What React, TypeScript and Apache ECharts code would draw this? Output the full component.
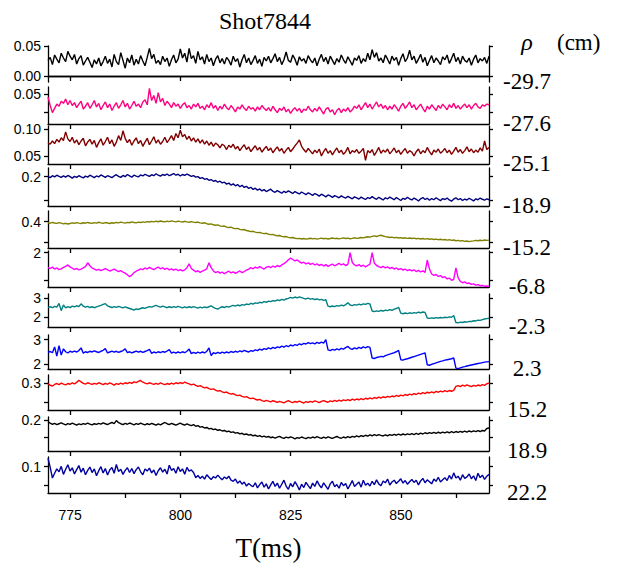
import React, { useEffect, useRef } from "react";
import * as echarts from "echarts";

// ---- sample grid ----
const T_START = 770;
const T_STEP = 0.5;

// ---- axis ticks ----
const xMin = 770;
const xMax = 870;
const xTicks = [775, 800, 825, 850];
const xMinorTicks = [787.5, 812.5, 837.5, 862.5];
const xTickLabels = ["775", "800", "825", "850"];

const titleText = "Shot7844";
const xAxisTitle = "T(ms)";
const rhoHeader = "ρ";
const rhoUnit = "(cm)";
const rhoLabels = ["-29.7", "-27.6", "-25.1", "-18.9", "-15.2", "-6.8", "-2.3", "2.3", "15.2", "18.9", "22.2"];

const yMins = [-0.01, 0.008, 0.035, 0.078, 0.15, 0.744, 1.51, 1.784, 0.159, 0.025, 0.028];
const yMaxs = [0.05, 0.06, 0.106, 0.236, 0.502, 2.06, 3.205, 3.195, 0.344, 0.217, 0.1265];
const yTickValues = [[0, 0.05], [0.025, 0.05], [0.05, 0.1], [0.1, 0.2], [0.2, 0.4], [1, 2], [2, 3], [2, 3], [0.2, 0.3], [0.1, 0.2], [0.05, 0.1]];
const yLabelValues = [[0, 0.05], [0.05], [0.05, 0.1], [0.2], [0.4], [2], [2, 3], [2, 3], [0.3], [0.2], [0.1]];
const yLabelDecimals = [2, 2, 2, 1, 1, 0, 0, 0, 1, 1, 1];

// ---- series values (one sample every 0.5 ms from 770 ms) ----
const s1 = [
  .026,.031,.019,.035,.028,.022,.038,.030,.024,.041,.033,.027,.036,.020,.029,.034,.018,.025,.031,.023,
  .014,.027,.020,.030,.017,.024,.033,.021,.028,.015,.036,.024,.019,.039,.026,.013,.030,.022,.035,.018,
  .028,.020,.034,.025,.017,.031,.046,.029,.036,.021,.026,.019,.033,.024,.030,.016,.027,.035,.022,.028,
  .045,.030,.038,.023,.046,.029,.034,.021,.041,.027,.032,.020,.036,.024,.030,.017,.028,.034,.022,.029,
  .020,.031,.026,.018,.033,.024,.029,.015,.027,.036,.022,.030,.019,.026,.034,.021,.028,.016,.031,.025,
  .033,.022,.029,.037,.024,.031,.019,.027,.040,.026,.023,.035,.028,.018,.032,.025,.029,.021,.034,.027,
  .022,.030,.017,.028,.036,.024,.031,.020,.033,.026,.019,.029,.023,.035,.027,.021,.032,.025,.018,.030,
  .026,.034,.021,.029,.024,.038,.027,.044,.031,.039,.025,.030,.022,.035,.028,.020,.033,.026,.031,.018,
  .029,.037,.024,.030,.043,.027,.033,.021,.028,.036,.023,.031,.017,.026,.034,.022,.030,.025,.019,.032,
  .027,.035,.021,.029,.038,.024,.031,.020,.033,.026,.023,.030,.018,.028,.035,.022,.029,.025,.031,.021,
  .033,
];
const s2 = [
  .046,.034,.024,.030,.036,.033,.040,.037,.043,.035,.041,.034,.038,.031,.036,.040,.029,.033,.038,.030,
  .035,.041,.032,.037,.028,.034,.039,.031,.036,.027,.033,.038,.030,.035,.041,.032,.037,.029,.034,.040,
  .033,.036,.031,.039,.042,.035,.058,.041,.048,.037,.052,.039,.044,.034,.040,.036,.031,.038,.033,.036,
  .030,.035,.038,.031,.034,.029,.036,.032,.037,.030,.033,.028,.035,.031,.038,.030,.034,.027,.033,.029,
  .036,.031,.028,.034,.030,.025,.032,.029,.035,.030,.027,.033,.029,.031,.026,.032,.028,.034,.030,.027,
  .031,.026,.033,.028,.024,.030,.027,.032,.025,.029,.023,.028,.031,.026,.030,.024,.029,.027,.033,.028,
  .025,.030,.026,.032,.027,.022,.029,.031,.025,.028,.021,.027,.030,.024,.029,.026,.031,.025,.028,.033,
  .030,.035,.028,.033,.038,.031,.036,.029,.034,.039,.032,.036,.030,.034,.028,.033,.029,.035,.031,.026,
  .033,.037,.030,.034,.039,.031,.035,.028,.032,.036,.030,.025,.033,.029,.035,.031,.027,.034,.030,.036,
  .032,.028,.035,.031,.037,.030,.034,.029,.033,.036,.031,.035,.029,.034,.037,.032,.030,.035,.033,.036,
  .035,
];
const s3 = [
  .074,.072,.078,.073,.081,.076,.084,.079,.095,.082,.077,.085,.074,.080,.071,.078,.083,.069,.076,.081,
  .072,.079,.066,.075,.082,.070,.077,.085,.073,.080,.068,.076,.088,.079,.097,.083,.075,.081,.070,.078,
  .084,.073,.079,.068,.076,.083,.071,.078,.086,.074,.080,.072,.077,.085,.075,.081,.088,.079,.092,.084,
  .098,.086,.090,.081,.087,.078,.084,.076,.082,.074,.080,.072,.078,.070,.076,.068,.074,.071,.065,.072,
  .069,.062,.070,.066,.072,.063,.068,.060,.066,.071,.062,.067,.058,.064,.069,.061,.066,.057,.063,.068,
  .060,.065,.056,.062,.067,.059,.064,.055,.061,.066,.058,.063,.069,.074,.080,.068,.062,.057,.064,.059,
  .054,.061,.056,.063,.050,.058,.064,.055,.060,.052,.059,.065,.056,.061,.053,.058,.066,.054,.060,.057,
  .062,.055,.059,.064,.042,.060,.056,.062,.051,.058,.066,.055,.061,.057,.063,.054,.059,.065,.056,.061,
  .053,.059,.064,.055,.060,.057,.050,.058,.063,.054,.060,.056,.066,.058,.052,.061,.057,.063,.055,.059,
  .064,.056,.061,.053,.059,.066,.057,.062,.055,.060,.067,.058,.063,.056,.061,.057,.065,.059,.078,.062,
  .066,
];
const s4 = [
  .200,.196,.204,.199,.206,.201,.197,.203,.198,.205,.200,.194,.201,.197,.204,.199,.195,.202,.198,.206,
  .201,.196,.203,.199,.207,.202,.197,.204,.200,.196,.203,.208,.201,.197,.205,.200,.209,.203,.198,.206,
  .202,.199,.207,.203,.210,.205,.201,.208,.204,.212,.206,.202,.209,.205,.211,.204,.208,.213,.206,.210,
  .203,.209,.205,.211,.206,.201,.204,.198,.200,.193,.196,.189,.192,.185,.188,.181,.184,.177,.181,.174,
  .177,.169,.173,.165,.170,.162,.167,.158,.164,.155,.160,.151,.156,.147,.152,.144,.149,.141,.146,.138,
  .143,.148,.139,.135,.142,.137,.131,.139,.134,.141,.136,.130,.138,.133,.128,.136,.131,.125,.133,.128,
  .122,.130,.125,.119,.127,.122,.116,.124,.120,.114,.121,.117,.112,.120,.115,.111,.118,.113,.108,.116,
  .112,.107,.115,.110,.105,.113,.109,.117,.111,.106,.114,.109,.103,.112,.108,.115,.110,.104,.113,.107,
  .101,.110,.106,.114,.108,.103,.111,.106,.099,.108,.113,.105,.110,.102,.109,.104,.112,.106,.100,.109,
  .105,.111,.103,.098,.107,.112,.104,.109,.101,.107,.103,.110,.105,.099,.108,.104,.111,.106,.102,.108,
  .104,
];
const s5 = [
  .390,.386,.393,.388,.384,.391,.387,.380,.385,.378,.383,.389,.385,.392,.387,.383,.390,.386,.393,.388,
  .384,.391,.386,.395,.389,.385,.392,.388,.383,.390,.386,.393,.389,.396,.391,.387,.394,.390,.398,.393,
  .389,.396,.392,.399,.394,.401,.397,.403,.398,.405,.400,.407,.402,.398,.405,.401,.408,.403,.399,.406,
  .401,.397,.404,.399,.395,.401,.396,.392,.397,.389,.385,.390,.381,.376,.380,.371,.366,.370,.360,.356,
  .359,.349,.345,.348,.338,.334,.337,.327,.322,.326,.316,.312,.306,.309,.301,.296,.299,.291,.287,.290,
  .281,.277,.279,.271,.266,.269,.261,.257,.259,.251,.247,.250,.243,.239,.242,.236,.240,.234,.238,.243,
  .237,.241,.235,.239,.244,.238,.242,.236,.240,.245,.239,.243,.237,.241,.246,.240,.244,.238,.242,.247,
  .241,.245,.250,.246,.252,.257,.253,.261,.265,.259,.268,.271,.264,.258,.255,.250,.253,.247,.251,.245,
  .249,.243,.247,.241,.245,.240,.244,.238,.242,.236,.240,.235,.239,.233,.237,.231,.235,.229,.233,.227,
  .231,.225,.229,.222,.226,.219,.223,.216,.220,.213,.217,.211,.215,.218,.222,.219,.224,.220,.226,.222,
  .225,
];
const s6 = [
  1.45,1.42,1.47,1.40,1.44,1.38,1.41,1.46,1.50,1.55,1.48,1.43,1.39,1.42,1.37,1.40,1.44,1.49,1.63,1.52,
  1.44,1.40,1.36,1.39,1.34,1.38,1.42,1.37,1.33,1.36,1.40,1.35,1.31,1.34,1.29,1.25,1.19,1.12,1.18,1.27,
  1.32,1.36,1.41,1.38,1.44,1.40,1.46,1.42,1.38,1.43,1.47,1.41,1.45,1.39,1.43,1.37,1.41,1.36,1.40,1.34,
  1.38,1.33,1.37,1.45,1.59,1.42,1.36,1.30,1.34,1.28,1.32,1.36,1.41,1.63,1.45,1.33,1.27,1.31,1.25,1.29,
  1.23,1.28,1.32,1.26,1.30,1.24,1.29,1.33,1.27,1.31,1.36,1.40,1.45,1.41,1.47,1.43,1.49,1.44,1.40,1.46,
  1.50,1.45,1.51,1.47,1.53,1.49,1.55,1.60,1.66,1.74,1.80,1.75,1.70,1.73,1.67,1.62,1.65,1.59,1.63,1.57,
  1.61,1.55,1.59,1.53,1.57,1.51,1.56,1.50,1.54,1.58,1.52,1.56,1.61,1.55,1.59,1.53,1.57,2.00,1.64,1.55,
  1.52,1.56,1.50,1.54,1.48,1.53,1.58,2.00,1.62,1.53,1.49,1.45,1.50,1.44,1.48,1.42,1.46,1.40,1.44,1.38,
  1.42,1.36,1.40,1.34,1.38,1.33,1.37,1.31,1.35,1.30,1.33,1.28,1.73,1.40,1.22,1.17,1.20,1.13,1.16,1.09,
  1.12,1.04,1.07,0.99,1.02,1.44,1.08,0.95,0.90,0.93,0.87,0.89,0.84,0.86,0.81,0.83,0.79,0.80,0.77,0.78,
  0.77,
];
const s7 = [
  2.52,2.55,2.50,2.57,2.53,2.72,2.35,2.64,2.49,2.56,2.51,2.58,2.54,2.60,2.56,2.70,2.58,2.53,2.57,2.51,
  2.55,2.50,2.54,2.58,2.62,2.67,2.71,2.60,2.55,2.51,2.56,2.52,2.57,2.53,2.49,2.54,2.50,2.46,2.42,2.38,
  2.44,2.41,2.46,2.50,2.47,2.52,2.56,2.53,2.58,2.62,2.57,2.53,2.58,2.54,2.50,2.55,2.51,2.56,2.52,2.57,
  2.53,2.49,2.54,2.50,2.55,2.51,2.56,2.52,2.48,2.53,2.49,2.54,2.50,2.55,2.60,2.52,2.47,2.43,2.50,2.55,
  2.51,2.57,2.53,2.58,2.62,2.58,2.64,2.60,2.66,2.63,2.69,2.66,2.72,2.69,2.75,2.72,2.78,2.75,2.81,2.78,
  2.84,2.81,2.87,2.84,2.90,2.87,2.93,2.89,2.95,2.98,3.03,2.99,3.05,3.01,3.06,3.02,2.98,2.95,2.99,2.94,
  2.97,2.92,2.95,2.90,2.93,2.88,2.91,2.58,2.55,2.59,2.56,2.61,2.58,2.63,2.60,2.66,2.76,2.64,2.61,2.66,
  2.63,2.68,2.65,2.70,2.67,2.72,2.69,2.33,2.30,2.34,2.31,2.36,2.33,2.38,2.35,2.40,2.37,2.43,2.46,2.52,
  2.22,2.19,2.23,2.20,2.24,2.21,2.25,2.22,2.27,2.24,2.28,2.26,1.97,1.95,1.98,1.96,1.99,1.97,2.00,1.98,
  2.01,1.99,2.03,2.01,2.10,1.74,1.72,1.76,1.74,1.78,1.76,1.80,1.79,1.83,1.82,1.86,1.85,1.89,1.92,1.94,
  1.96,
];
const s8 = [
  2.48,2.51,2.46,2.70,2.32,2.75,2.36,2.62,2.50,2.45,2.52,2.48,2.53,2.49,2.55,2.66,2.44,2.50,2.47,2.52,
  2.49,2.54,2.50,2.47,2.52,2.56,2.63,2.45,2.49,2.53,2.48,2.52,2.47,2.51,2.55,2.62,2.46,2.50,2.45,2.49,
  2.53,2.48,2.52,2.47,2.51,2.55,2.60,2.43,2.49,2.45,2.50,2.46,2.51,2.48,2.53,2.59,2.44,2.48,2.44,2.49,
  2.45,2.50,2.46,2.52,2.61,2.42,2.47,2.43,2.48,2.44,2.49,2.45,2.52,2.66,2.34,2.46,2.42,2.47,2.43,2.48,
  2.44,2.49,2.45,2.51,2.47,2.52,2.48,2.54,2.50,2.56,2.52,2.49,2.55,2.52,2.58,2.55,2.61,2.57,2.63,2.60,
  2.66,2.62,2.68,2.64,2.70,2.67,2.73,2.69,2.75,2.71,2.78,2.74,2.80,2.76,2.83,2.79,2.85,2.82,2.88,2.84,
  2.87,2.83,2.89,2.85,2.90,2.86,3.00,2.58,2.55,2.60,2.57,2.62,2.58,2.64,2.61,2.67,2.72,2.63,2.60,2.66,
  2.62,2.68,2.64,2.70,2.66,2.71,2.68,2.24,2.22,2.26,2.28,2.31,2.29,2.34,2.37,2.40,2.43,2.46,2.50,2.56,
  2.17,2.15,2.19,2.21,2.24,2.27,2.30,2.33,2.36,2.39,2.42,2.45,1.96,1.94,1.98,2.01,2.04,2.07,2.10,2.12,
  2.15,2.17,2.19,2.21,2.24,1.82,1.80,1.83,1.86,1.88,1.91,1.93,1.95,1.97,1.99,2.01,2.03,2.05,2.07,2.08,
  2.09,
];
const s9 = [
  .297,.290,.286,.294,.299,.293,.301,.296,.292,.299,.295,.302,.297,.305,.316,.308,.300,.296,.303,.298,
  .294,.300,.296,.303,.298,.293,.300,.295,.302,.297,.291,.298,.294,.301,.296,.303,.299,.305,.300,.308,
  .304,.310,.315,.306,.301,.297,.303,.298,.294,.300,.295,.302,.297,.293,.299,.295,.301,.296,.303,.298,
  .304,.299,.306,.301,.297,.292,.296,.289,.284,.288,.281,.276,.279,.272,.268,.271,.264,.259,.262,.255,
  .251,.254,.247,.243,.246,.239,.235,.238,.231,.227,.230,.223,.219,.222,.216,.212,.215,.209,.205,.210,
  .206,.202,.208,.204,.199,.205,.201,.197,.203,.208,.202,.198,.204,.200,.206,.201,.196,.203,.199,.205,
  .201,.207,.203,.198,.205,.209,.204,.200,.207,.203,.210,.205,.211,.206,.213,.208,.214,.209,.216,.211,
  .217,.213,.219,.214,.221,.217,.223,.218,.225,.220,.227,.222,.229,.224,.231,.227,.233,.229,.236,.231,
  .238,.234,.241,.236,.243,.239,.246,.241,.248,.244,.251,.246,.253,.249,.255,.250,.257,.253,.259,.255,
  .261,.256,.262,.258,.263,.284,.288,.283,.290,.285,.292,.287,.283,.289,.285,.291,.287,.293,.289,.298,
  .301,
];
const s10 = [
  .190,.182,.176,.181,.174,.179,.184,.178,.173,.180,.175,.182,.177,.171,.178,.174,.180,.176,.183,.177,
  .172,.179,.175,.181,.177,.184,.179,.174,.181,.186,.180,.197,.185,.179,.174,.181,.176,.183,.178,.173,
  .180,.175,.182,.177,.172,.179,.174,.181,.176,.171,.178,.173,.180,.186,.179,.174,.181,.176,.171,.177,
  .182,.176,.171,.178,.173,.168,.174,.165,.168,.160,.163,.155,.158,.150,.153,.146,.149,.142,.145,.138,
  .141,.134,.137,.130,.133,.126,.129,.122,.125,.118,.121,.115,.118,.111,.114,.108,.112,.105,.109,.103,
  .107,.100,.104,.098,.103,.108,.101,.096,.103,.099,.105,.100,.094,.101,.097,.104,.099,.095,.102,.098,
  .104,.099,.106,.101,.096,.103,.098,.105,.100,.096,.102,.107,.101,.097,.104,.099,.106,.101,.108,.103,
  .110,.105,.112,.107,.114,.109,.116,.111,.117,.112,.118,.113,.110,.116,.111,.118,.113,.119,.114,.120,
  .115,.121,.116,.122,.117,.123,.118,.124,.119,.126,.121,.128,.123,.129,.124,.130,.125,.131,.126,.132,
  .127,.133,.128,.134,.129,.135,.130,.136,.131,.137,.132,.138,.133,.139,.134,.140,.135,.141,.138,.152,
  .155,
];
const s11 = [
  .123,.098,.069,.082,.094,.086,.101,.079,.093,.105,.088,.097,.080,.092,.103,.085,.096,.078,.090,.099,
  .084,.094,.075,.089,.100,.083,.095,.077,.091,.098,.082,.106,.087,.093,.079,.090,.097,.084,.095,.081,
  .092,.099,.086,.078,.094,.088,.096,.083,.091,.076,.089,.097,.085,.093,.080,.104,.090,.095,.082,.100,
  .087,.094,.079,.098,.088,.091,.084,.070,.076,.068,.074,.066,.078,.071,.065,.073,.069,.077,.070,.064,
  .072,.067,.074,.063,.060,.066,.055,.061,.052,.058,.047,.054,.049,.045,.056,.042,.051,.058,.044,.053,
  .039,.050,.060,.046,.055,.041,.052,.063,.047,.038,.054,.045,.059,.049,.036,.052,.043,.057,.048,.040,
  .055,.046,.061,.050,.042,.056,.047,.038,.053,.060,.045,.051,.041,.057,.048,.054,.039,.050,.062,.046,
  .052,.058,.044,.063,.049,.055,.047,.060,.051,.064,.053,.048,.061,.056,.066,.050,.058,.063,.054,.060,
  .067,.055,.062,.052,.059,.065,.057,.063,.050,.061,.068,.056,.064,.059,.053,.066,.060,.071,.058,.064,
  .070,.062,.076,.066,.083,.069,.074,.063,.078,.068,.072,.080,.067,.075,.062,.082,.070,.077,.065,.074,
  .079,
];

const seriesValues = [s1, s2, s3, s4, s5, s6, s7, s8, s9, s10, s11];

// ---- layout & style ----
const colors = ["#000000", "#ff0080", "#800000", "#000080", "#808000", "#ff00ff", "#008080", "#0000ff", "#ff0000", "#000000", "#0000a0"];
const panelTops = [46, 87, 126, 168, 211, 251, 294, 335, 375, 417, 457];
const panelBottoms = [82, 124, 164, 206, 248, 287, 327, 369, 410, 451, 493];
const CHART_W = 621;
const CHART_H = 564;
const PLOT_LEFT = 48;
const PLOT_RIGHT = 489;
const SANS = "'Liberation Sans Narrow', 'Arial Narrow', 'Liberation Sans', Arial, sans-serif";
const SERIF = "'Liberation Serif', 'Times New Roman', serif";

export default function App() {
  const ref = useRef<HTMLDivElement>(null);

  useEffect(() => {
    if (!ref.current) return;
    const chart = echarts.init(ref.current, null, { renderer: "svg" });
    const n = seriesValues.length;
    const times = s1.map((_, i) => T_START + i * T_STEP);
    const axisLine = { show: true, lineStyle: { color: "#000", width: 1.3 } };

    const grids = panelTops.map((top, i) => ({
      left: PLOT_LEFT,
      right: CHART_W - PLOT_RIGHT,
      top,
      height: panelBottoms[i] - top,
      containLabel: false,
    }));

    const xAxes: any[] = panelTops.map((_, i) => {
      const last = i === n - 1;
      return {
        type: "value",
        gridIndex: i,
        min: xMin,
        max: xMax,
        position: "bottom",
        axisLine,
        splitLine: { show: false },
        axisTick: {
          show: true,
          inside: false,
          length: 5,
          lineStyle: { color: "#000", width: 1.3 },
          customValues: last ? [...xTicks, ...xMinorTicks] : xTicks,
        },
        axisLabel: {
          show: last,
          customValues: xTicks,
          margin: 15,
          color: "#000",
          fontSize: 14,
          fontFamily: SANS,
          formatter: (v: number) => xTickLabels[xTicks.indexOf(v)] ?? String(v),
        },
        name: last ? xAxisTitle : "",
        nameLocation: "middle",
        nameGap: 41,
        nameTextStyle: { color: "#000", fontSize: 27, fontFamily: SERIF },
      };
    });
    // top frame line of the first panel
    xAxes.push({
      type: "value",
      gridIndex: 0,
      min: xMin,
      max: xMax,
      position: "top",
      axisLine,
      axisTick: { show: false },
      axisLabel: { show: false },
      splitLine: { show: false },
    });

    const yAxes: any[] = [];
    panelTops.forEach((_, i) => {
      const common = {
        type: "value",
        gridIndex: i,
        min: yMins[i],
        max: yMaxs[i],
        axisLine,
        splitLine: { show: false },
        axisTick: {
          show: true,
          inside: false,
          length: 4,
          lineStyle: { color: "#000", width: 1.3 },
          customValues: yTickValues[i],
        },
      };
      yAxes.push({
        ...common,
        position: "left",
        axisLabel: {
          show: true,
          customValues: yLabelValues[i],
          margin: 7,
          color: "#000",
          fontSize: 14,
          fontFamily: SANS,
          formatter: (v: number) => v.toFixed(yLabelDecimals[i]),
        },
      });
      yAxes.push({
        ...common,
        position: "right",
        axisLabel: { show: false },
      });
    });

    const series = seriesValues.map((vals, i) => ({
      type: "line",
      xAxisIndex: i,
      yAxisIndex: i * 2,
      data: vals.map((v, k) => [times[k], v]),
      showSymbol: false,
      symbol: "none",
      lineStyle: { color: colors[i], width: 1.4 },
      itemStyle: { color: colors[i] },
      silent: true,
    }));

    const graphic: any[] = [
      {
        type: "text",
        x: 265,
        y: 21,
        style: {
          text: titleText,
          fill: "#000",
          font: `24px ${SERIF}`,
          textAlign: "center",
          textVerticalAlign: "middle",
          align: "center",
          verticalAlign: "middle",
        },
      },
      {
        type: "text",
        x: 527,
        y: 42,
        style: {
          text: rhoHeader,
          fill: "#000",
          font: `italic 24px ${SERIF}`,
          textAlign: "center",
          textVerticalAlign: "middle",
          align: "center",
          verticalAlign: "middle",
        },
      },
      {
        type: "text",
        x: 557,
        y: 42,
        style: {
          text: rhoUnit,
          fill: "#000",
          font: `23px ${SERIF}`,
          textAlign: "left",
          textVerticalAlign: "middle",
          align: "left",
          verticalAlign: "middle",
        },
      },
      ...rhoLabels.map((lab, i) => ({
        type: "text",
        x: 527,
        y: panelBottoms[i] - 1,
        style: {
          text: lab,
          fill: "#000",
          font: `23px ${SERIF}`,
          textAlign: "center",
          textVerticalAlign: "middle",
          align: "center",
          verticalAlign: "middle",
        },
      })),
    ];

    chart.setOption({
      animation: false,
      backgroundColor: "#fff",
      grid: grids,
      xAxis: xAxes,
      yAxis: yAxes,
      series,
      graphic,
    });

    return () => chart.dispose();
  }, []);

  return (
    <div
      ref={ref}
      style={{ position: "absolute", left: 0, top: 0, width: CHART_W, height: CHART_H }}
    />
  );
}
